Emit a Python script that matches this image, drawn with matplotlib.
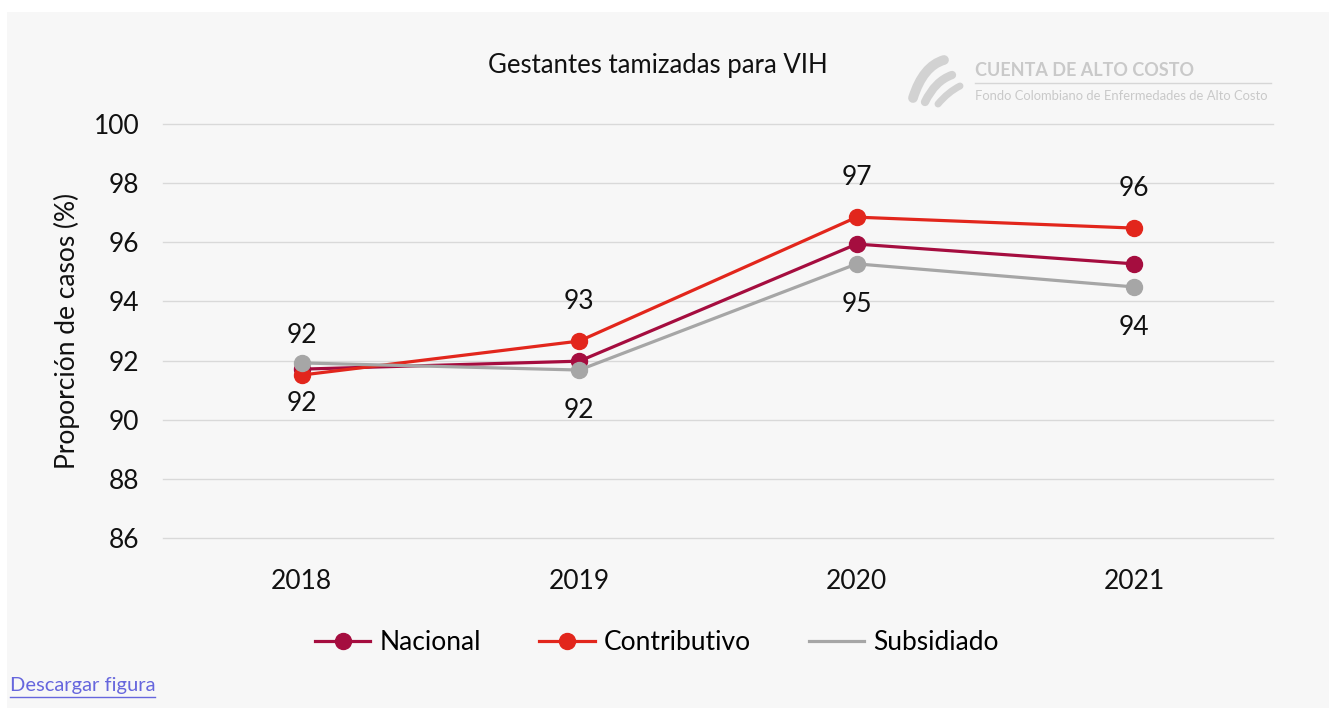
import matplotlib.pyplot as plt
from matplotlib.lines import Line2D
from matplotlib.patches import Rectangle, PathPatch
from matplotlib.path import Path

plt.rcParams['font.family'] = ['Lato', 'DejaVu Sans']

# datos
years = ['2018', '2019', '2020', '2021']
nacional = [91.71, 91.98, 95.94, 95.27]
contributivo = [91.51, 92.66, 96.85, 96.48]
subsidiado = [91.92, 91.68, 95.27, 94.49]
yticks = [86, 88, 90, 92, 94, 96, 98, 100]

c_nac = '#a50d3f'
c_con = '#e2261c'
c_sub = '#a6a6a6'
bg = '#f7f7f7'
fs = 19

fig = plt.figure(figsize=(13.29, 7.08), dpi=100)
fig.patch.set_facecolor('white')
fig.patches.append(Rectangle((7 / 1329, 0), 1 - 7 / 1329, 1 - 12 / 708,
                             transform=fig.transFigure, facecolor=bg,
                             edgecolor='none', zorder=-10))

ax = fig.add_axes([163 / 1329, 1 - 538 / 708, (1273 - 163) / 1329, (538 - 124) / 708])
ax.set_facecolor(bg)
x = range(len(years))

ax.plot(x, nacional, color=c_nac, lw=2.3, marker='o', ms=11.5, zorder=3)
ax.plot(x, contributivo, color=c_con, lw=2.3, marker='o', ms=11.5, zorder=3)
ax.plot(x, subsidiado, color=c_sub, lw=2.3, marker='o', ms=11.5, zorder=3)

# etiquetas de datos
for i, v in enumerate(contributivo):
    ax.annotate(f'{round(v):.0f}', (i, v), xytext=(0, 28.5), textcoords='offset points',
                ha='center', va='center', fontsize=fs, color='#111111')
for i, v in enumerate(subsidiado):
    ax.annotate(f'{round(v):.0f}', (i, v), xytext=(0, -29), textcoords='offset points',
                ha='center', va='center', fontsize=fs, color='#111111')

ax.set_xlim(-0.5, 3.5)
ax.set_ylim(86, 100)
ax.set_xticks(list(x))
ax.set_xticklabels(years)
ax.set_yticks(yticks)
ax.tick_params(axis='both', length=0, labelsize=fs, colors='#111111')
ax.tick_params(axis='x', pad=22)
ax.tick_params(axis='y', pad=17)
for g in yticks:
    ax.axhline(g, color='#d9d9d9', lw=1, zorder=1, clip_on=False)
for s in ax.spines.values():
    s.set_visible(False)
ax.set_ylabel('Proporción de casos (%)', fontsize=fs, color='#111111', labelpad=10)

fig.text(658 / 1329, 1 - 66 / 708, 'Gestantes tamizadas para VIH', ha='center', va='center',
         fontsize=18.5, color='#111111')

# leyenda
handles = [
    Line2D([], [], color=c_nac, lw=2.3, marker='o', ms=11.5),
    Line2D([], [], color=c_con, lw=2.3, marker='o', ms=11.5),
    Line2D([], [], color=c_sub, lw=2.3),
]
fig.legend(handles, ['Nacional', 'Contributivo', 'Subsidiado'], loc='center',
           bbox_to_anchor=(657 / 1329, 1 - 643 / 708), ncol=3, frameon=False,
           fontsize=fs, handlelength=2.1, handletextpad=0.35, columnspacing=2.2)

# logo
gris = '#c9c9c9'
fig.text(975 / 1329, 1 - 71 / 708, 'CUENTA DE ALTO COSTO', fontsize=13, fontweight='bold',
         color=gris, ha='left', va='center')
fig.add_artist(Line2D([975 / 1329, 1271 / 1329], [1 - 83 / 708, 1 - 83 / 708],
                      color='#d6d6d6', lw=1, transform=fig.transFigure))
fig.text(975 / 1329, 1 - 96 / 708, 'Fondo Colombiano de Enfermedades de Alto Costo',
         fontsize=9.4, color=gris, ha='left', va='center')
for (x0, y0, x1, y1, w) in [(913, 98, 944, 60, 7), (925, 102, 952, 75, 6), (938, 104, 960, 86, 5)]:
    verts = [(x0 / 1329, 1 - y0 / 708), ((x0 + 10) / 1329, 1 - (y1 + 6) / 708),
             (x1 / 1329, 1 - y1 / 708)]
    p = Path(verts, [Path.MOVETO, Path.CURVE3, Path.CURVE3])
    fig.add_artist(PathPatch(p, facecolor='none', edgecolor='#d2d2d2', lw=w,
                             transform=fig.transFigure, capstyle='round'))

# enlace
fig.text(10 / 1329, 1 - 686 / 708, 'Descargar figura', fontsize=14.5, color='#6666dd',
         ha='left', va='center')
fig.add_artist(Line2D([10 / 1329, 155 / 1329], [1 - 697 / 708, 1 - 697 / 708],
                      color='#6666dd', lw=1, transform=fig.transFigure))

fig.savefig('out.png', dpi=100, facecolor=fig.get_facecolor())
